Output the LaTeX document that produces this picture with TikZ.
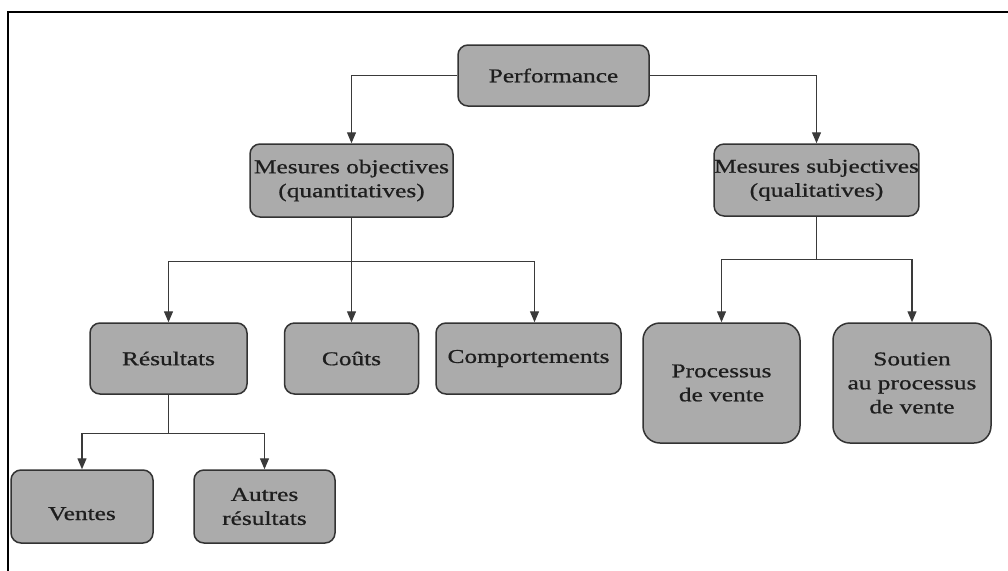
\documentclass[tikz,border=0pt]{standalone}
\usepackage{fontspec}
\setmainfont{Liberation Serif}[FakeStretch=1.3, FakeBold=0.8]
\usetikzlibrary{arrows.meta,calc}
\definecolor{boxfill}{HTML}{ABABAB}
\definecolor{boxline}{HTML}{333333}
\definecolor{wire}{HTML}{3A3A3A}
\definecolor{ink}{HTML}{1E1E1E}
\begin{document}
\begin{tikzpicture}[x=1pt,y=-1pt,
  box/.style={draw=boxline, line width=1.5pt, fill=boxfill, rounded corners=10pt,
    align=center, inner sep=0pt, text=ink, font=\fontsize{19.5}{24}\selectfont},
  bigbox/.style={box, rounded corners=17pt},
  wireline/.style={draw=wire, line width=1.3pt},
  wirearrow/.style={wireline, -{Triangle[width=9pt,length=11pt]}}]

% page and frame
\fill[white] (0,0) rectangle (1008,570);
\useasboundingbox (0,0) rectangle (1008,570);
\draw[line width=2pt, black] (8,571) -- (8,12) -- (1009,12);

% top level
\node[box, minimum width=191pt, minimum height=61pt] (perf) at (553.5,75.5) {Performance};

% second level
\node[box, minimum width=203pt, minimum height=73pt] (obj) at (351.5,180.5)
  {Mesures objectives\\(quantitatives)};
\node[box, minimum width=203pt, minimum height=72pt] (subj) at (816.5,180)
  {Mesures subjectives\\(qualitatives)};

% third level
\node[box, minimum width=157pt, minimum height=71pt] (res) at (168.5,358.5) {Résultats};
\node[box, minimum width=134pt, minimum height=71pt] (couts) at (351.5,358.5) {Coûts};
\node[box, minimum width=185pt, minimum height=71pt] (comp) at (528.5,358.5) {Comportements};
\node[bigbox, minimum width=157pt, minimum height=120pt] (proc) at (721.5,383)
  {Processus\\de vente};
\node[bigbox, minimum width=158pt, minimum height=120pt] (sout) at (912,383)
  {Soutien\\au processus\\de vente};

% fourth level
\node[box, minimum width=142pt, minimum height=73pt, text height=27pt, text depth=0pt]
  (ventes) at (82,506.5) {Ventes};
\node[box, minimum width=141pt, minimum height=73pt] (autres) at (264.5,506.5)
  {Autres\\résultats};

% connectors
\draw[wirearrow] (perf.west) -| (obj.north);
\draw[wirearrow] (perf.east) -| (subj.north);

\coordinate (objbus) at ($(obj.south)+(0,44)$);
\draw[wireline] (obj.south) -- (objbus);
\draw[wirearrow] (objbus) -| (res.north);
\draw[wirearrow] (objbus) -- (couts.north);
\draw[wirearrow] (objbus) -| ([xshift=6pt]comp.north);

\coordinate (subjbus) at ($(subj.south)+(0,43)$);
\draw[wireline] (subj.south) -- (subjbus);
\draw[wirearrow] (subjbus) -| (proc.north);
\draw[wirearrow] (subjbus) -| (sout.north);

\coordinate (resbus) at ($(res.south)+(0,39)$);
\draw[wireline] (res.south) -- (resbus);
\draw[wirearrow] (resbus) -| (ventes.north);
\draw[wirearrow] (resbus) -| (autres.north);
\end{tikzpicture}
\end{document}
